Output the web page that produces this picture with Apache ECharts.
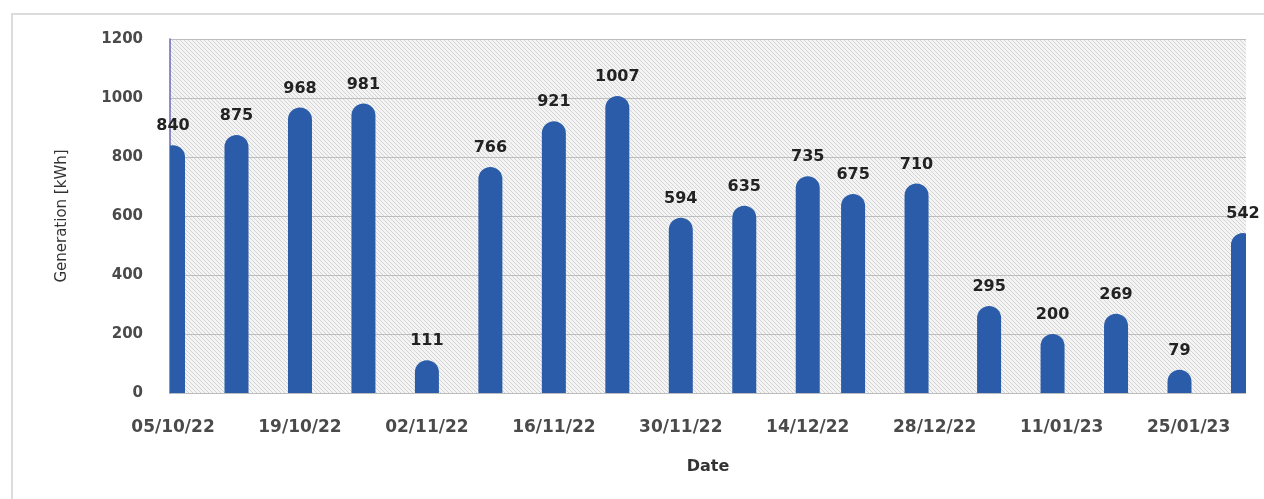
<!DOCTYPE html>
<html>
<head>
<meta charset="utf-8">
<script src="https://cdn.jsdelivr.net/npm/echarts@6/dist/echarts.min.js"></script>
<style>
  html, body { margin: 0; padding: 0; background: #ffffff; }
  #chart { width: 1264px; height: 499px; }
</style>
</head>
<body>
<div id="chart"></div>
<script>
// Weekly energy generation readings
const dates = [
  '2022-10-05', '2022-10-12', '2022-10-19', '2022-10-26', '2022-11-02',
  '2022-11-09', '2022-11-16', '2022-11-23', '2022-11-30', '2022-12-07',
  '2022-12-14', '2022-12-19', '2022-12-26', '2023-01-03', '2023-01-10',
  '2023-01-17', '2023-01-24', '2023-01-31'
];
const generation = [840, 875, 968, 981, 111, 766, 921, 1007, 594, 635, 735, 675, 710, 295, 200, 269, 79, 542];

// Fortnightly date labels along the x axis
const tickLabels = ['05/10/22', '19/10/22', '02/11/22', '16/11/22', '30/11/22', '14/12/22', '28/12/22', '11/01/23', '25/01/23'];
const yTicks = [0, 200, 400, 600, 800, 1000, 1200];

// x positions are measured in days from the first reading
const DAY = 86400000;
const start = Date.UTC(2022, 9, 5);
const dayOf = s => Math.round((Date.parse(s + 'T00:00:00Z') - start) / DAY);
const points = dates.map((d, i) => [dayOf(d), generation[i]]);
const tickDays = tickLabels.map((_, i) => i * 14);

const FONT = 'DejaVu Sans';
const BAR_COLOR = '#2b5ca9';
const BAR_W = 24;

// fine diagonal hatching for the plot background
function hatch() {
  const c = document.createElement('canvas');
  c.width = 4; c.height = 4;
  const g = c.getContext('2d');
  g.fillStyle = '#f4f4f4';
  g.fillRect(0, 0, 4, 4);
  g.fillStyle = '#d4d4d4';
  for (let k = 0; k < 4; k++) g.fillRect(k, k, 1, 1);
  return c;
}

// rounded-top bar, clipped to the plot by the series
function renderBar(params, api) {
  const x = api.value(0);
  const top = api.coord([x, api.value(1)]);
  const base = api.coord([x, 0]);
  return {
    type: 'rect',
    shape: {
      x: top[0] - BAR_W / 2, y: top[1],
      width: BAR_W, height: base[1] - top[1],
      r: [BAR_W / 2, BAR_W / 2, 0, 0]
    },
    style: { fill: BAR_COLOR }
  };
}

// value text just above the bar top
function renderValue(params, api) {
  const v = api.value(1);
  const p = api.coord([api.value(0), v]);
  return {
    type: 'text',
    x: p[0], y: p[1] - 11,
    style: {
      text: String(v),
      align: 'center', verticalAlign: 'bottom',
      fontFamily: FONT, fontSize: 16, fontWeight: 'bold',
      fill: '#222222'
    }
  };
}

const chart = echarts.init(document.getElementById('chart'), null, { renderer: 'canvas' });

chart.setOption({
  animation: false,
  backgroundColor: '#ffffff',
  graphic: [{
    type: 'rect',
    shape: { x: 12, y: 14, width: 1300, height: 600 },
    style: { fill: 'none', stroke: '#dcdcdc', lineWidth: 2 },
    z: -10
  }],
  grid: {
    left: 170, right: 18, top: 39, bottom: 106,
    show: true,
    borderWidth: 0,
    backgroundColor: { image: hatch(), repeat: 'repeat' }
  },
  xAxis: {
    type: 'value',
    min: -1 / 3,
    max: 118 + 1 / 3,
    name: 'Date',
    nameLocation: 'middle',
    nameGap: 66,
    nameTextStyle: { fontFamily: FONT, fontSize: 16, fontWeight: 'bold', color: '#333' },
    axisLine: { show: false, onZero: false },
    axisTick: { show: false },
    splitLine: { show: false },
    axisLabel: {
      customValues: tickDays,
      formatter: v => tickLabels[Math.round(v / 14)] || '',
      margin: 26,
      fontFamily: FONT, fontSize: 17, fontWeight: 'bold', color: '#4a4a4a'
    }
  },
  yAxis: {
    type: 'value',
    min: 0, max: 1200, interval: 200,
    name: 'Generation [kWh]',
    nameLocation: 'middle',
    nameGap: 100,
    nameTextStyle: { fontFamily: FONT, fontSize: 15, color: '#333' },
    axisLine: { show: true, onZero: false, lineStyle: { color: '#6a6ab4', width: 1.5 } },
    axisTick: { show: false },
    splitLine: { show: true, lineStyle: { color: '#bdbdbd', width: 1 } },
    axisLabel: {
      customValues: yTicks,
      formatter: v => String(v),
      margin: 27,
      fontFamily: FONT, fontSize: 15, fontWeight: 'bold', color: '#4a4a4a'
    }
  },
  series: [{
    type: 'custom',
    renderItem: renderBar,
    data: points,
    clip: true,
    encode: { x: 0, y: 1 },
    z: 2
  }, {
    type: 'custom',
    renderItem: renderValue,
    data: points,
    clip: false,
    encode: { x: 0, y: 1 },
    z: 3
  }]
});
</script>
</body>
</html>
